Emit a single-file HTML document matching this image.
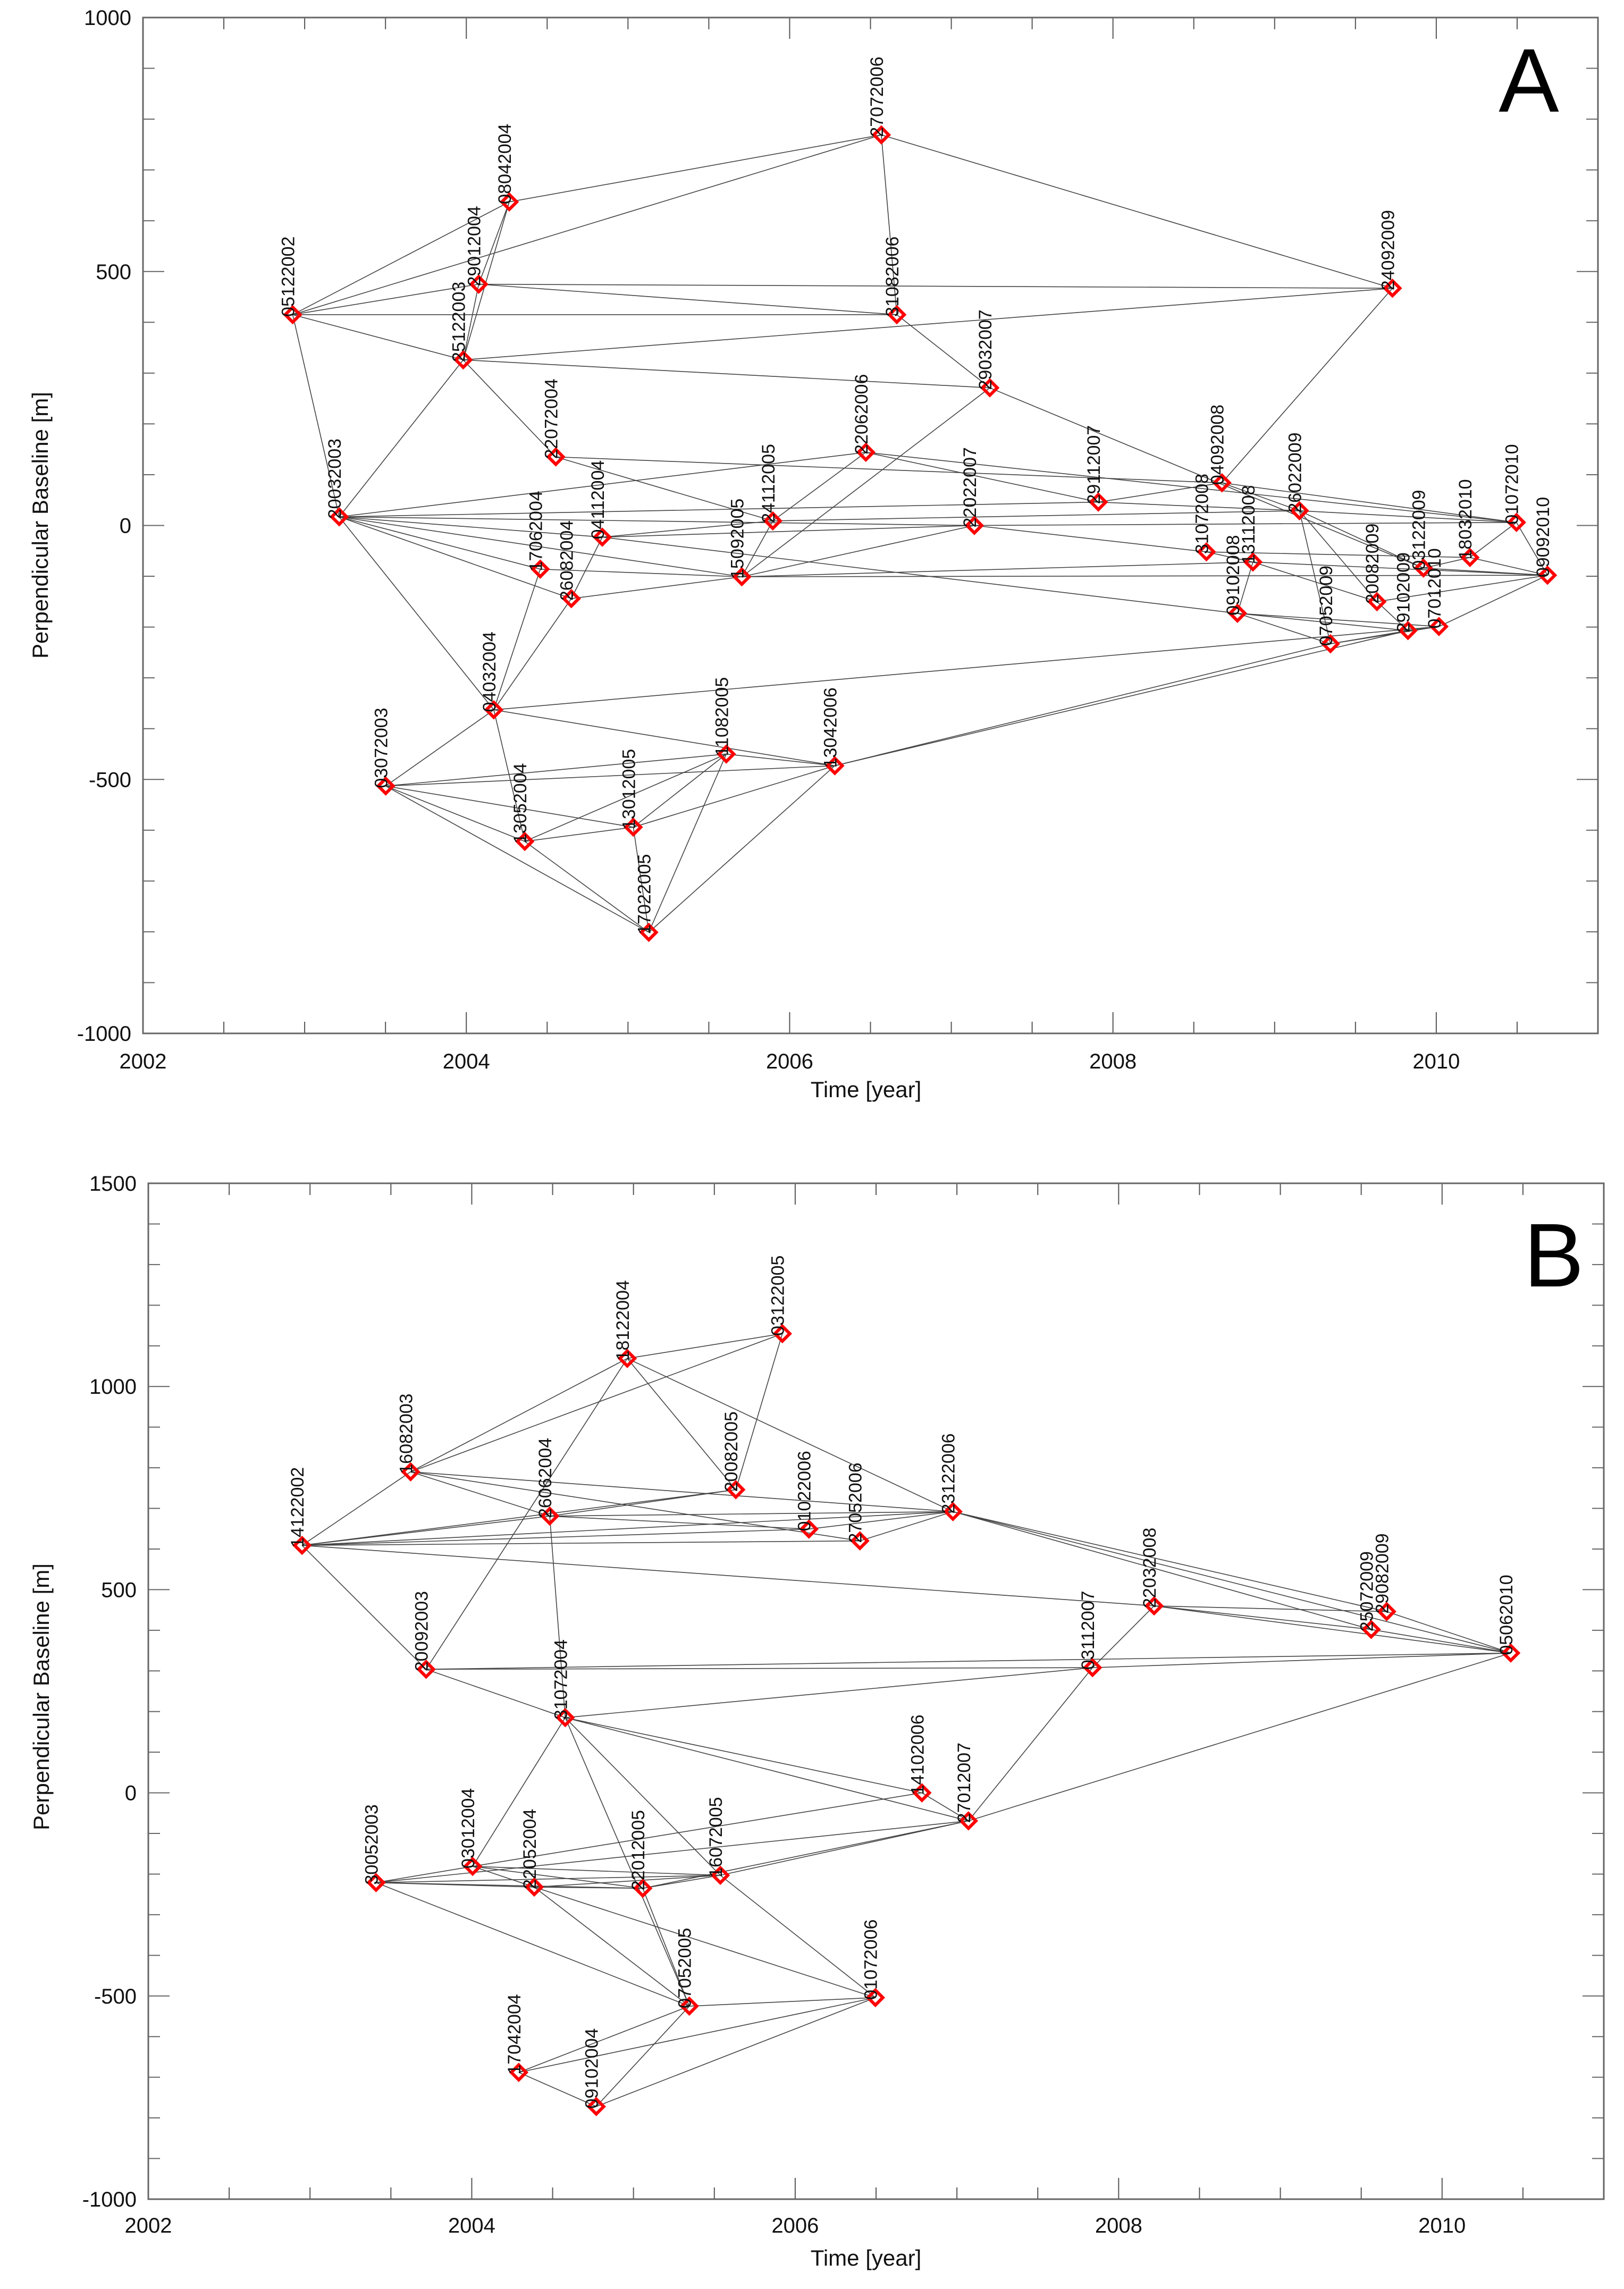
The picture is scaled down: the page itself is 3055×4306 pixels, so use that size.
<!DOCTYPE html>
<html><head><meta charset="utf-8"><style>
html,body{margin:0;padding:0;background:#fff}
svg{display:block;font-family:"Liberation Sans",sans-serif}
</style></head><body>
<svg id="fig" width="3055" height="4306" viewBox="0 0 3055 4306" xmlns="http://www.w3.org/2000/svg"></svg>
<script>
// ---- Panel A data ----
const datesA = ["05122002","08042004","29012004","25122003","22072004","20032003","17062004","26082004","04032004","03072003","13052004","13012005","17022005","11082005","13042006","04112004","15092005","24112005","22062006","27072006","31082006","29032007","22022007","29112007","31072008","04092008","13112008","09102008","26022009","07052009","24092009","20082009","29102009","03122009","07012010","18032010","01072010","09092010"];
const baselineA = [415,637,475,326,135,17,-86,-144,-363,-513,-622,-594,-801,-450,-473,-23,-101,9,144,769,415,271,0,46,-52,84,-72,-173,29,-233,467,-150,-207,-84,-199,-63,6,-98];
const edgesA = [
["05122002","08042004"],["05122002","27072006"],["05122002","31082006"],["05122002","25122003"],["05122002","20032003"],["05122002","29012004"],
["08042004","25122003"],["08042004","27072006"],["08042004","29012004"],["29012004","25122003"],["29012004","24092009"],["29012004","31082006"],
["25122003","20032003"],["25122003","22072004"],["25122003","29032007"],["25122003","24092009"],
["20032003","29112007"],["20032003","22022007"],["20032003","04112004"],["20032003","17062004"],["20032003","26082004"],["20032003","04032004"],["20032003","15092005"],["20032003","22062006"],
["22072004","24112005"],["22072004","04092008"],["27072006","31082006"],["27072006","24092009"],["31082006","29032007"],["29032007","15092005"],["29032007","03122009"],
["22062006","29112007"],["22062006","24112005"],["22062006","01072010"],["04112004","24112005"],["04112004","26082004"],["04112004","22022007"],["04112004","09102008"],
["17062004","04032004"],["17062004","15092005"],["26082004","04032004"],["26082004","15092005"],["15092005","22022007"],["15092005","24112005"],["15092005","13112008"],["15092005","09092010"],
["24112005","26022009"],["22022007","01072010"],["22022007","31072008"],["29112007","04092008"],["29112007","26022009"],
["04032004","03072003"],["04032004","13052004"],["04032004","13042006"],["03072003","13012005"],["03072003","11082005"],["03072003","13052004"],["03072003","17022005"],["03072003","13042006"],
["13052004","13012005"],["13052004","11082005"],["13052004","17022005"],["13012005","11082005"],["13012005","13042006"],["17022005","11082005"],["17022005","13042006"],["13012005","17022005"],["11082005","13042006"],
["13042006","07052009"],["13042006","29102009"],["04032004","07012010"],
["04092008","24092009"],["04092008","26022009"],["04092008","01072010"],["26022009","20082009"],["26022009","03122009"],["26022009","07052009"],["31072008","13112008"],["31072008","18032010"],["13112008","20082009"],["13112008","09092010"],["13112008","09102008"],
["09102008","07052009"],["09102008","29102009"],["09102008","07012010"],["07052009","29102009"],["29102009","07012010"],["20082009","29102009"],["03122009","09092010"],["07012010","09092010"],["18032010","09092010"],["01072010","09092010"],["18032010","03122009"],["01072010","26022009"],["07052009","07012010"],["20082009","09092010"],["18032010","01072010"]
];
// ---- Panel B data ----
const datesB = ["14122002","16082003","20092003","30052003","03012004","22052004","17042004","09102004","31072004","26062004","18122004","22012005","07052005","20082005","16072005","03122005","01022006","27052006","01072006","23122006","14102006","27012007","03112007","22032008","25072009","29082009","05062010"];
const baselineB = [609,790,304,-221,-181,-232,-688,-772,185,681,1069,-235,-525,746,-203,1130,649,620,-504,692,0,-69,308,460,402,446,344];
const edgesB = [
["14122002","16082003"],["14122002","26062004"],["14122002","20082005"],["14122002","01022006"],["14122002","27052006"],["14122002","23122006"],["14122002","22032008"],["14122002","20092003"],
["16082003","18122004"],["16082003","03122005"],["16082003","26062004"],["16082003","27052006"],["16082003","23122006"],
["18122004","03122005"],["18122004","20082005"],["18122004","23122006"],["18122004","20092003"],
["26062004","20082005"],["26062004","31072004"],["26062004","01022006"],["26062004","23122006"],["20082005","03122005"],
["23122006","25072009"],["23122006","29082009"],["23122006","05062010"],["01022006","23122006"],["27052006","23122006"],
["20092003","31072004"],["20092003","03112007"],["20092003","05062010"],
["31072004","14102006"],["31072004","27012007"],["31072004","16072005"],["31072004","03112007"],["31072004","03012004"],["31072004","07052005"],
["22032008","03112007"],["22032008","25072009"],["22032008","05062010"],["22032008","29082009"],["03112007","05062010"],["03112007","27012007"],
["25072009","05062010"],["29082009","05062010"],["27012007","05062010"],["14102006","27012007"],["14102006","03012004"],
["30052003","03012004"],["30052003","22052004"],["30052003","16072005"],["30052003","22012005"],["30052003","07052005"],["30052003","27012007"],
["03012004","22052004"],["03012004","16072005"],["03012004","22012005"],["22052004","16072005"],["22052004","07052005"],["22052004","22012005"],["22052004","01072006"],
["22012005","16072005"],["22012005","07052005"],["22012005","27012007"],["16072005","27012007"],["16072005","01072006"],
["07052005","01072006"],["07052005","17042004"],["07052005","09102004"],["17042004","09102004"],["17042004","01072006"],["09102004","01072006"]
];
const xTicks = [2002,2004,2006,2008,2010];
const yTicksA = [1000,500,0,-500,-1000];
const yTicksB = [1500,1000,500,0,-500,-1000];

const NS="http://www.w3.org/2000/svg";
const svg=document.getElementById('fig');
function mk(tag,attrs,parent){const e=document.createElementNS(NS,tag);for(const k in attrs)e.setAttribute(k,attrs[k]);(parent||svg).appendChild(e);return e;}
function dateToYear(s){const d=+s.slice(0,2),m=+s.slice(2,4),y=+s.slice(4);const cum=[0,31,59,90,120,151,181,212,243,273,304,334];return y+(cum[m-1]+d-1)/365;}

function panel(cfg){
  const g=mk('g',{});
  
  
  const X=v=>cfg.left+(v-2002)/(2011-2002)*(cfg.right-cfg.left);
  const Y=v=>cfg.top+(cfg.ymax-v)/(cfg.ymax-cfg.ymin)*(cfg.bottom-cfg.top);
  // ticks
  for(let t=2002;t<=2011.001;t+=0.5){
    const major=Math.abs(t/2-Math.round(t/2))<1e-6, L=major?40:22;
    const x=X(t);
    const a=mk('line',{x1:x,x2:x,y1:cfg.bottom,y2:cfg.bottom-L,stroke:'#555','stroke-width':2},g);
    
    const b=mk('line',{x1:x,x2:x,y1:cfg.top,y2:cfg.top+L,stroke:'#555','stroke-width':2},g);
    
  }
  for(let v=cfg.ymin;v<=cfg.ymax;v+=100){
    const major=v%500===0, L=major?40:22, y=Y(v);
    const a=mk('line',{x1:cfg.left,x2:cfg.left+L,y1:y,y2:y,stroke:'#666','stroke-width':2},g);
    
    const b=mk('line',{x1:cfg.right,x2:cfg.right-L,y1:y,y2:y,stroke:'#666','stroke-width':2},g);
    
  }
  const fr=mk('rect',{x:cfg.left,y:cfg.top,width:cfg.right-cfg.left,height:cfg.bottom-cfg.top,fill:'none',stroke:'#666','stroke-width':3},g);
  
  xTicks.forEach(t=>{const e=mk('text',{x:X(t),y:cfg.xlabY,'font-size':40,'text-anchor':'middle',fill:'#111'},g);e.textContent=t;
    });
  cfg.yTicks.forEach(v=>{const e=mk('text',{x:cfg.left-22,y:Y(v)+14,'font-size':40,'text-anchor':'end',fill:'#111'},g);e.textContent=v;
    });
  const xt=mk('text',{x:1629,y:cfg.xtitleY,'font-size':42,'text-anchor':'middle',fill:'#111'},g);xt.textContent='Time [year]';
  
  const yt=mk('text',{x:0,y:0,'font-size':42,'text-anchor':'middle',fill:'#111',transform:`translate(${cfg.ytitleX},${cfg.ytitleY}) rotate(-90)`},g);yt.textContent='Perpendicular Baseline [m]';
  
  const pl=mk('text',{x:cfg.letterX,y:cfg.letterY,'font-size':170,'text-anchor':'middle',fill:'#000'},g);pl.textContent=cfg.letter;
  
  // points lookup
  const pos={};
  cfg.dates.forEach((d,i)=>{pos[d]=[X(dateToYear(d)),Y(cfg.vals[i])];});
  cfg.edges.forEach(([a,b])=>{const p=pos[a],q=pos[b];
    const l=mk('line',{x1:p[0],y1:p[1],x2:q[0],y2:q[1],stroke:'#444','stroke-width':1.6},g);
    });
  cfg.dates.forEach(d=>{const [x,y]=pos[d];
    const m=mk('path',{d:`M${x} ${y-14}L${x+14} ${y}L${x} ${y+14}L${x-14} ${y}Z`,fill:'none',stroke:'#f00','stroke-width':6},g);
    
    const t=mk('text',{x:0,y:0,'font-size':34,fill:'#111',transform:`translate(${x+3},${y+4}) rotate(-90)`},g);t.textContent=d;
    });
}
panel({name:'panel-a',left:269,right:3006,top:33,bottom:1944,ymin:-1000,ymax:1000,yTicks:yTicksA,dates:datesA,vals:baselineA,edges:edgesA,
  xlabY:2010,xtitleY:2064,ytitleX:90,ytitleY:988,letter:'A',letterX:2876,letterY:210});
panel({name:'panel-b',left:279,right:3017,top:2226,bottom:4137,ymin:-1000,ymax:1500,yTicks:yTicksB,dates:datesB,vals:baselineB,edges:edgesB,
  xlabY:4200,xtitleY:4262,ytitleX:92,ytitleY:3192,letter:'B',letterX:2923,letterY:2420});
</script>
</body></html>
